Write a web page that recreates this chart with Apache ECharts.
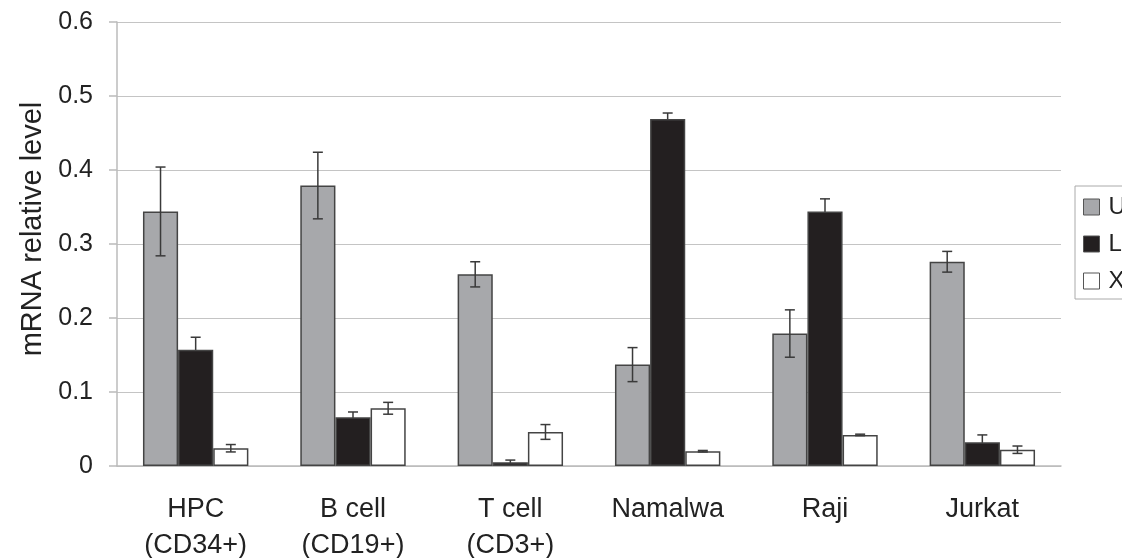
<!DOCTYPE html>
<html>
<head>
<meta charset="utf-8">
<script src="https://cdn.jsdelivr.net/npm/echarts@6/dist/echarts.min.js"></script>
<style>
  html, body { margin: 0; padding: 0; background: #fff; }
  #chart { width: 1122px; height: 558px; }
</style>
</head>
<body>
<div id="chart"></div>
<script>
// data
var categories = ['HPC\n(CD34+)', 'B cell\n(CD19+)', 'T cell\n(CD3+)', 'Namalwa', 'Raji', 'Jurkat'];
var seriesNames = ['U', 'L', 'X'];
var uValues = [0.344, 0.379, 0.259, 0.137, 0.179, 0.276];
var uErrors = [0.060, 0.045, 0.017, 0.023, 0.032, 0.014];
var lValues = [0.157, 0.066, 0.005, 0.469, 0.344, 0.032];
var lErrors = [0.017, 0.007, 0.003, 0.008, 0.017, 0.010];
var xValues = [0.024, 0.078, 0.046, 0.020, 0.042, 0.022];
var xErrors = [0.005, 0.008, 0.010, 0.001, 0.001, 0.005];
var yTicks = [0, 0.1, 0.2, 0.3, 0.4, 0.5, 0.6];

var colors = ['#a7a8ab', '#231f20', '#ffffff'];
var catGap = 0.33;

var myChart = echarts.init(document.getElementById('chart'));

// error bars, placed on the bar of series idx inside each category
function errorSeries(idx, values, errors, z) {
    var data = values.map(function (v, i) { return [i, v, errors[i]]; });
    return {
        type: 'custom',
        z: z,
        silent: true,
        data: data,
        renderItem: function (params, api) {
            var catW = api.size([1, 0])[0];
            var barW = catW * (1 - catGap) / 3;
            var c = api.coord([api.value(0), api.value(1)]);
            var x = c[0] + (idx - 1) * barW;
            var hi = api.coord([api.value(0), api.value(1) + api.value(2)])[1];
            var lo = api.coord([api.value(0), api.value(1) - api.value(2)])[1];
            var cap = 5;
            var st = { stroke: '#3a3a3a', lineWidth: 1.5 };
            return {
                type: 'group',
                children: [
                    { type: 'line', shape: { x1: x, y1: hi, x2: x, y2: lo }, style: st },
                    { type: 'line', shape: { x1: x - cap, y1: hi, x2: x + cap, y2: hi }, style: st },
                    { type: 'line', shape: { x1: x - cap, y1: lo, x2: x + cap, y2: lo }, style: st }
                ]
            };
        }
    };
}

function barSeries(idx, values) {
    return {
        name: seriesNames[idx],
        type: 'bar',
        z: 5,
        data: values,
        barGap: '0%',
        barCategoryGap: (catGap * 100) + '%',
        itemStyle: { color: colors[idx], borderColor: '#444', borderWidth: 1.5 }
    };
}

option = {
    animation: false,
    textStyle: { fontFamily: 'Liberation Sans, Arial, sans-serif' },
    grid: { left: 117, right: 61, top: 22, bottom: 92, outerBoundsMode: 'none' },
    legend: {
        orient: 'vertical',
        left: 1075,
        top: 186,
        data: seriesNames,
        icon: 'rect',
        itemWidth: 16,
        itemHeight: 16,
        itemGap: 13,
        padding: [9, 20, 6, 8],
        borderColor: '#aaa',
        borderWidth: 1,
        itemStyle: { borderColor: '#555', borderWidth: 1 },
        textStyle: { fontSize: 24, color: '#222', padding: [0, 0, 0, 4] }
    },
    xAxis: {
        type: 'category',
        data: categories,
        axisLine: { lineStyle: { color: '#bbb', width: 1.5 } },
        axisTick: { length: 8, lineStyle: { color: '#bbb', width: 1.5 } },
        axisLabel: { fontSize: 27, color: '#222', margin: 26, lineHeight: 36 }
    },
    yAxis: {
        type: 'value',
        min: 0,
        max: 0.6,
        interval: 0.1,
        name: 'mRNA relative level',
        nameLocation: 'middle',
        nameGap: 70,
        nameTextStyle: { fontSize: 29, color: '#222', padding: [0, 0, 0, 30] },
        axisLine: { show: true, lineStyle: { color: '#bbb', width: 1.5 } },
        axisTick: { show: true, length: 8, lineStyle: { color: '#bbb', width: 1.5 } },
        axisLabel: {
            fontSize: 25, color: '#222', margin: 24,
            formatter: function (v) {
                var t = yTicks.filter(function (k) { return Math.abs(k - v) < 1e-9; });
                return t.length ? String(t[0]) : '';
            }
        },
        splitLine: { lineStyle: { color: '#c4c4c4', width: 1.2 } }
    },
    series: [
        barSeries(0, uValues),
        barSeries(1, lValues),
        barSeries(2, xValues),
        errorSeries(0, uValues, uErrors, 10),
        // lower half hidden behind the black bars
        errorSeries(1, lValues, lErrors, 3),
        errorSeries(2, xValues, xErrors, 10)
    ]
};

myChart.setOption(option);
</script>
</body>
</html>
